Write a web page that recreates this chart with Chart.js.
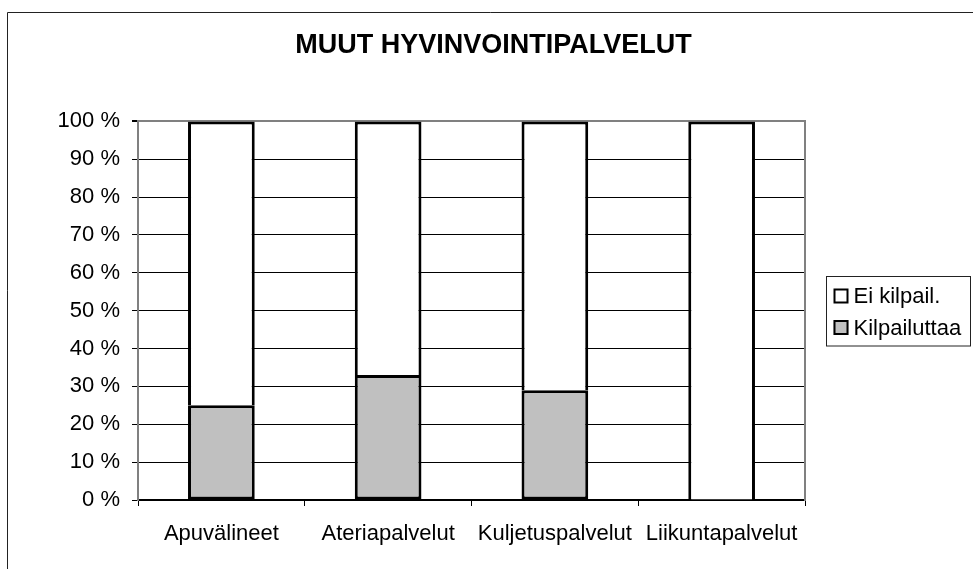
<!DOCTYPE html>
<html>
<head>
<meta charset="utf-8">
<title>Muut hyvinvointipalvelut</title>
<script src="https://cdn.jsdelivr.net/npm/chart.js@4/dist/chart.umd.min.js"></script>
<style>
  html, body { margin: 0; padding: 0; background: #fff; }
  #wrap { width: 973px; height: 569px; position: relative; }
</style>
</head>
<body>
<div id="wrap"><canvas id="chart" width="973" height="569"></canvas></div>
<script>
// ==================== Data ====================
const chartTitle = 'MUUT HYVINVOINTIPALVELUT';
const categories = ['Apuvälineet', 'Ateriapalvelut', 'Kuljetuspalvelut', 'Liikuntapalvelut'];
const kilpailuttaa = [25, 33, 29, 0];
const eiKilpail = [75, 67, 71, 100];
const seriesNames = ['Kilpailuttaa', 'Ei kilpail.'];
const yTicks = [0, 10, 20, 30, 40, 50, 60, 70, 80, 90, 100];

(function() {
  'use strict';

  const FONT = "'Liberation Sans', Arial, sans-serif";
  Chart.defaults.font.family = FONT;
  Chart.defaults.color = '#000';

  // outer frame of the chart object (clipped by the page edge)
  const framePlugin = {
    id: 'frame',
    beforeDraw(chart) {
      const ctx = chart.ctx;
      ctx.save();
      ctx.fillStyle = '#fff';
      ctx.fillRect(0, 0, chart.width, chart.height);
      ctx.strokeStyle = '#222';
      ctx.lineWidth = 1;
      ctx.beginPath();
      ctx.moveTo(7.5, chart.height);
      ctx.lineTo(7.5, 12.5);
      ctx.lineTo(chart.width, 12.5);
      ctx.stroke();
      ctx.restore();
    }
  };

  // boxed legend on the right, top series first
  const boxLegend = {
    id: 'boxLegend',
    afterDraw(chart) {
      const ctx = chart.ctx;
      const area = chart.chartArea;
      const x0 = area.right + 21.5;
      const y0 = 276.5;
      ctx.save();
      ctx.strokeStyle = '#222';
      ctx.lineWidth = 1;
      ctx.strokeRect(x0, y0, 144, 69.5);
      ctx.font = '22px ' + FONT;
      ctx.textBaseline = 'middle';
      ctx.textAlign = 'left';
      const sets = chart.data.datasets.slice().reverse();
      sets.forEach((ds, i) => {
        const cy = y0 + 19.5 + i * 31.5;
        ctx.fillStyle = ds.backgroundColor;
        ctx.fillRect(x0 + 7, cy - 7.5, 15, 15);
        ctx.strokeStyle = '#000';
        ctx.lineWidth = 2;
        ctx.strokeRect(x0 + 8, cy - 6.5, 13, 13);
        ctx.fillStyle = '#000';
        ctx.fillText(ds.label, x0 + 27, cy + 1);
      });
      ctx.restore();
    }
  };

  new Chart(document.getElementById('chart'), {
    type: 'bar',
    data: {
      labels: categories,
      datasets: [
        {
          label: seriesNames[0],
          data: kilpailuttaa,
          backgroundColor: '#c0c0c0',
          borderColor: '#000',
          borderWidth: 3,
          borderSkipped: false,
          barPercentage: 0.4,
          categoryPercentage: 1.0
        },
        {
          label: seriesNames[1],
          data: eiKilpail,
          backgroundColor: '#ffffff',
          borderColor: '#000',
          borderWidth: 3,
          borderSkipped: 'start',
          barPercentage: 0.4,
          categoryPercentage: 1.0
        }
      ]
    },
    options: {
      responsive: false,
      animation: false,
      devicePixelRatio: 1,
      layout: { padding: { left: 14, right: 0, top: 0, bottom: 0 } },
      plugins: {
        legend: { display: false },
        tooltip: { enabled: false },
        title: {
          display: true,
          text: chartTitle,
          color: '#000',
          font: { size: 27, weight: 'bold' },
          padding: { top: 29, bottom: 60 }
        }
      },
      scales: {
        x: {
          stacked: true,
          offset: true,
          grid: {
            offset: true,
            drawOnChartArea: false,
            drawTicks: true,
            tickLength: 6,
            color: '#000'
          },
          border: { color: '#000', width: 2 },
          ticks: {
            font: { size: 22 },
            color: '#000',
            padding: 15,
            maxRotation: 0,
            autoSkip: false
          },
          afterFit(scale) { scale.height = 69; }
        },
        y: {
          stacked: true,
          min: 0,
          max: 100,
          afterBuildTicks(scale) { scale.ticks = yTicks.map(v => ({ value: v })); },
          grid: {
            color: ctx => (ctx.tick && ctx.tick.value === 100) ? '#808080' : '#000',
            lineWidth: ctx => (ctx.tick && ctx.tick.value === 100) ? 2 : 1,
            tickColor: '#000',
            tickLength: 6,
            drawTicks: true
          },
          border: { color: '#808080', width: 2 },
          ticks: {
            font: { size: 22 },
            color: '#000',
            padding: 12,
            callback: v => v + ' %'
          },
          afterFit(scale) { scale.width = 124; }
        },
        y2: {
          position: 'right',
          display: true,
          grid: { drawOnChartArea: false, drawTicks: false },
          ticks: { display: false },
          border: { color: '#808080', width: 2 },
          afterFit(scale) { scale.width = 168; }
        }
      }
    },
    plugins: [framePlugin, boxLegend]
  });
})();
</script>
</body>
</html>
